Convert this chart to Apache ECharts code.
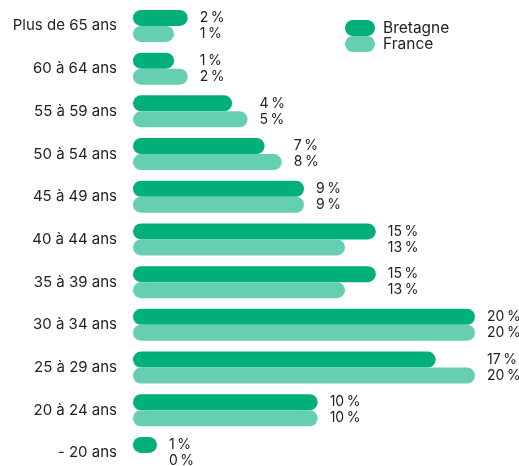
<!DOCTYPE html>
<html lang="fr">
<head>
<meta charset="UTF-8" />
<title>Pyramide des âges</title>
<style>
  html, body { margin: 0; padding: 0; background: #fff; }
  #main { width: 519px; height: 466px; }
</style>
</head>
<body>
<div id="main"></div>
<script src="https://cdn.jsdelivr.net/npm/echarts@6/dist/echarts.min.js"></script>
<script>
  // tranches d'âge, du haut vers le bas
  var categories = ["Plus de 65 ans", "60 à 64 ans", "55 à 59 ans", "50 à 54 ans", "45 à 49 ans",
    "40 à 44 ans", "35 à 39 ans", "30 à 34 ans", "25 à 29 ans", "20 à 24 ans", "- 20 ans"];

  // longueurs des barres (en %)
  var bretagne = [3.2, 2.4, 5.8, 7.7, 10.0, 14.2, 14.2, 20.0, 17.7, 10.8, 1.4];
  var france = [2.4, 3.2, 6.7, 8.7, 10.0, 12.4, 12.4, 20.0, 20.0, 10.8, 0];

  // étiquettes affichées
  var bretagneLabels = [2, 1, 4, 7, 9, 15, 15, 20, 17, 10, 1];
  var franceLabels = [1, 2, 5, 8, 9, 13, 13, 20, 20, 10, 0];

  var colorB = "#00af7a";
  var colorF = "#67cfb1";
  var font = "Inter";

  var myChart = echarts.init(document.getElementById("main"));

  // barres invisibles pour aligner les étiquettes sur la plus longue barre du groupe
  var padB = bretagne.map(function (v, i) { return Math.max(v, france[i]) - v; });
  var padF = france.map(function (v, i) { return Math.max(v, bretagne[i]) - v; });

  function labelOf(arr) {
    return {
      show: true,
      position: "right",
      distance: 12,
      color: "#222",
      fontFamily: font,
      fontSize: 14,
      formatter: function (p) { return arr[p.dataIndex] + "\u2009%"; }
    };
  }

  var pill = "path://M8,0 H22 A8,8 0 0 1 22,16 H8 A8,8 0 0 1 8,0 Z";

  var option = {
    animation: false,
    legend: {
      data: ["Bretagne", "France"],
      orient: "vertical",
      left: 345,
      top: 20,
      padding: 0,
      itemWidth: 30,
      itemHeight: 16,
      itemGap: 0,
      icon: pill,
      textStyle: { color: "#222", fontFamily: font, fontSize: 15.5, padding: [0, 0, 0, 3] }
    },
    grid: { left: 133, top: 4.6, width: 342, height: 469.7, containLabel: false, outerBoundsMode: "none" },
    xAxis: {
      type: "value",
      min: 0,
      max: 20,
      show: false
    },
    yAxis: {
      type: "category",
      data: categories,
      inverse: true,
      axisLine: { show: false },
      axisTick: { show: false },
      axisLabel: { color: "#222", fontFamily: font, fontSize: 15, margin: 16 }
    },
    series: [
      {
        name: "Bretagne",
        type: "bar",
        stack: "b",
        data: bretagne,
        barWidth: 16,
        barGap: "0%",
        itemStyle: { color: colorB, borderRadius: 8 }
      },
      {
        name: "padB",
        type: "bar",
        stack: "b",
        data: padB,
        barWidth: 16,
        itemStyle: { color: "rgba(0,0,0,0)" },
        label: labelOf(bretagneLabels),
        silent: true
      },
      {
        name: "France",
        type: "bar",
        stack: "f",
        data: france,
        barWidth: 16,
        barGap: "0%",
        itemStyle: { color: colorF, borderRadius: 8 }
      },
      {
        name: "padF",
        type: "bar",
        stack: "f",
        data: padF,
        barWidth: 16,
        itemStyle: { color: "rgba(0,0,0,0)" },
        label: labelOf(franceLabels),
        silent: true
      }
    ]
  };

  myChart.setOption(option);
</script>
</body>
</html>
